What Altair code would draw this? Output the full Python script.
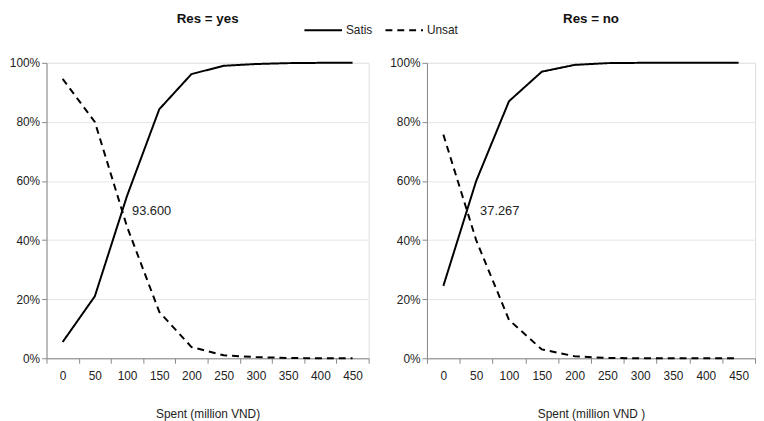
import altair as alt
import pandas as pd

spent = [0, 50, 100, 150, 200, 250, 300, 350, 400, 450]
series = ["Satis", "Unsat"]
satis_yes = [0.055, 0.21, 0.55, 0.843, 0.962, 0.99, 0.996, 0.999, 1.0, 1.0]
unsat_yes = [0.946, 0.80, 0.445, 0.157, 0.038, 0.01, 0.004, 0.001, 0.0, 0.0]
satis_no = [0.245, 0.60, 0.87, 0.97, 0.993, 0.999, 1.0, 1.0, 1.0, 1.0]
unsat_no = [0.757, 0.40, 0.13, 0.03, 0.007, 0.001, 0.0, 0.0, 0.0, 0.0]
titles = ["Res = yes", "Res = no"]
x_titles = ["Spent (million VND)", "Spent (million VND )"]
cross_labels = ["93.600", "37.267"]
cross_at = [100, 50]
cross_y = [0.5, 0.5]

FONT = "Liberation Sans"


def panel(satis, unsat, title, xtitle, lab, lab_x, lab_y, width, label_dx):
    df = pd.DataFrame({
        "Spent": spent * 2,
        "Share": satis + unsat,
        "Series": ["Satis"] * len(spent) + ["Unsat"] * len(spent),
    })
    xenc = alt.X(
        "Spent:O",
        bandPosition=0.5,
        scale=alt.Scale(type="band", domain=spent, paddingInner=0, paddingOuter=0),
        axis=alt.Axis(
            title=xtitle, labelAngle=0, tickBand="extent", grid=False,
            domainColor="#888888", tickColor="#888888", tickSize=5,
            labelPadding=7, titlePadding=28, labelColor="#222222",
            labelFontSize=12, titleFontSize=12, titleFontWeight="normal",
            titleColor="#222222", labelFont=FONT, titleFont=FONT,
        ),
    )
    yenc = alt.Y(
        "Share:Q",
        scale=alt.Scale(domain=[0, 1]),
        axis=alt.Axis(
            title=None, format=".0%", values=[0, 0.2, 0.4, 0.6, 0.8, 1.0],
            gridColor="#e6e6e6", domainColor="#888888", tickColor="#888888",
            tickSize=5, labelPadding=2, labelColor="#222222", labelFontSize=12,
            labelFont=FONT,
        ),
    )
    lines = alt.Chart(df).mark_line(color="black", strokeWidth=2).encode(
        x=xenc,
        y=yenc,
        strokeDash=alt.StrokeDash(
            "Series:N",
            scale=alt.Scale(domain=series, range=[[1, 0], [7, 5]]),
            legend=alt.Legend(
                title=None, orient="none", direction="horizontal",
                legendX=260, legendY=-53, symbolType="M-1,0L1,0",
                symbolSize=1444, symbolStrokeWidth=2, symbolStrokeColor="black",
                labelFontSize=12, labelFont=FONT, labelColor="#222222",
                labelOffset=3, columnPadding=9,
            ),
        ),
    )
    tdf = pd.DataFrame({"Spent": [lab_x], "Share": [lab_y], "label": [lab]})
    text = alt.Chart(tdf).mark_text(
        align="left", baseline="middle", dx=label_dx, fontSize=13, font=FONT, color="#222222"
    ).encode(x="Spent:O", y="Share:Q", text="label:N")
    return alt.layer(lines, text).properties(
        width=width, height=299,
        title=alt.TitleParams(title, fontSize=13.5, fontWeight="bold", font=FONT,
                              anchor="middle", offset=32, color="#111111"),
    )


left = panel(satis_yes, unsat_yes, titles[0], x_titles[0], cross_labels[0], cross_at[0], cross_y[0], 326, 5)
right = panel(satis_no, unsat_no, titles[1], x_titles[1], cross_labels[1], cross_at[1], cross_y[1], 332, 4)

chart = alt.hconcat(left, right, spacing=19).properties(
    padding={"left": 0, "top": 0, "right": 0, "bottom": 0}
).configure_view(stroke=None).configure(background="white")

chart.save("out.html", embed_options={"renderer": "svg", "actions": False})
